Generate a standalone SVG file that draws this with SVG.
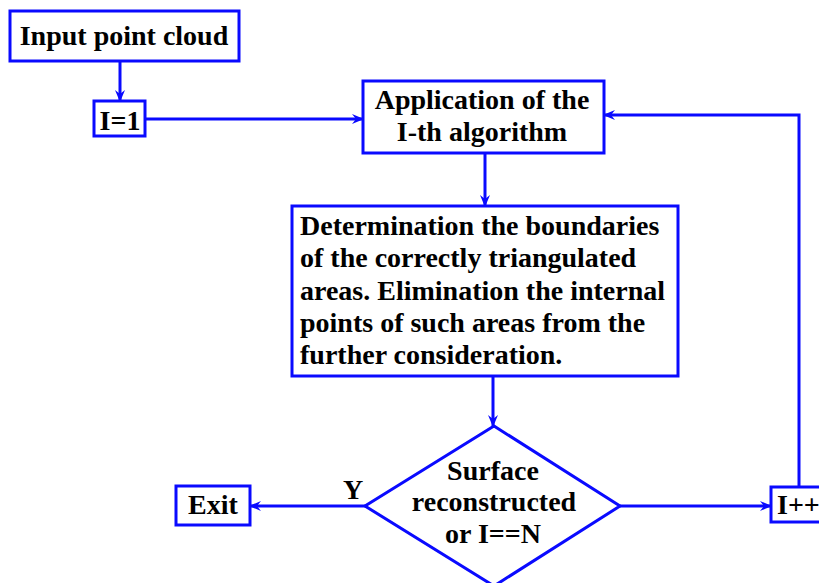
<svg xmlns="http://www.w3.org/2000/svg" width="819" height="583" viewBox="0 0 819 583">
  <defs>
    <style>
      .box { fill: #ffffff; stroke: #0a0aff; stroke-width: 3; }
      .wire { fill: none; stroke: #0a0aff; stroke-width: 3; }
      text { font-family: "Liberation Serif", "Times New Roman", serif; font-weight: bold; font-size: 28px; fill: #000000; }
      .mid { text-anchor: middle; }
    </style>
    <marker id="arrow" viewBox="0 0 12 12" refX="11" refY="6" markerWidth="12" markerHeight="12" markerUnits="userSpaceOnUse" orient="auto">
      <path d="M0,1 L12,6 L0,11 L4,6 z" fill="#0a0aff"/>
    </marker>
  </defs>

  <!-- connectors -->
  <g id="connectors">
    <line class="wire" x1="120" y1="61" x2="120" y2="101" marker-end="url(#arrow)"/>
    <line class="wire" x1="145" y1="119" x2="363" y2="119" marker-end="url(#arrow)"/>
    <line class="wire" x1="485" y1="153" x2="485" y2="206" marker-end="url(#arrow)"/>
    <line class="wire" x1="493" y1="376" x2="493" y2="426" marker-end="url(#arrow)"/>
    <line class="wire" x1="365" y1="506" x2="250" y2="506" marker-end="url(#arrow)"/>
    <line class="wire" x1="620" y1="506" x2="771" y2="506" marker-end="url(#arrow)"/>
    <polyline class="wire" points="799,487 799,115 604,115" marker-end="url(#arrow)"/>
    <text class="mid" x="353" y="499">Y</text>
  </g>

  <g id="input">
    <rect class="box" x="10" y="11" width="229" height="50"/>
    <text class="mid" x="124" y="45">Input point cloud</text>
  </g>

  <g id="init">
    <rect class="box" x="94" y="101" width="51" height="35"/>
    <text class="mid" x="120" y="130">I=1</text>
  </g>

  <g id="apply">
    <rect class="box" x="363" y="81" width="241" height="72"/>
    <text class="mid" x="482" y="109">Application of the</text>
    <text class="mid" x="482" y="141">I-th algorithm</text>
  </g>

  <g id="determine">
    <rect class="box" x="292" y="206" width="386" height="170"/>
    <text x="300" y="235">Determination the boundaries</text>
    <text x="300" y="267">of the correctly triangulated</text>
    <text x="300" y="300">areas. Elimination the internal</text>
    <text x="300" y="332">points of such areas from the</text>
    <text x="300" y="364">further consideration.</text>
  </g>

  <g id="decision">
    <polygon class="box" points="494,426 620,506 494,586 365,506"/>
    <text class="mid" x="493" y="480">Surface</text>
    <text class="mid" x="494" y="511">reconstructed</text>
    <text class="mid" x="493" y="543">or I==N</text>
  </g>

  <g id="exit">
    <rect class="box" x="176" y="486" width="74" height="39"/>
    <text class="mid" x="213" y="514">Exit</text>
  </g>

  <g id="increment">
    <rect class="box" x="771" y="487" width="70" height="35"/>
    <text x="777" y="514">I++</text>
  </g>
</svg>
